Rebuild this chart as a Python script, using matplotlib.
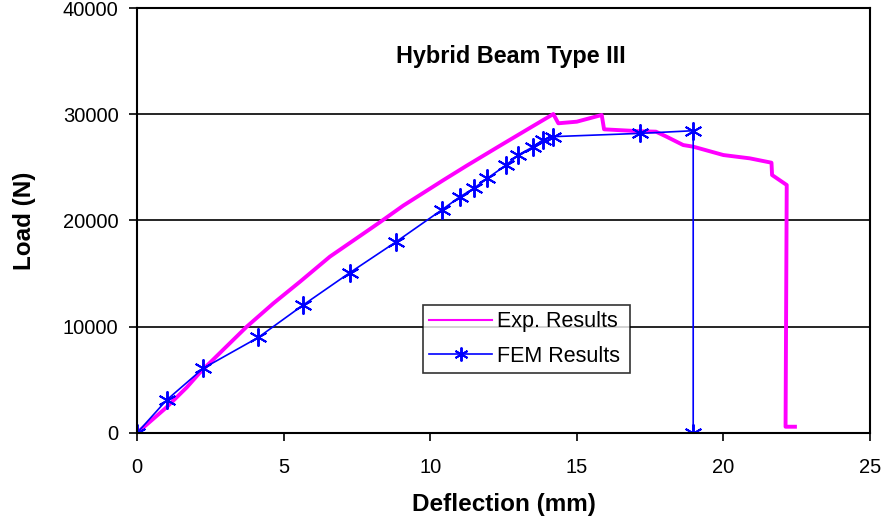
import matplotlib
matplotlib.use("Agg")
import matplotlib.pyplot as plt

plt.rcParams['font.family'] = ['Liberation Sans', 'DejaVu Sans']

# Experimental results (deflection mm, load N)
exp_x = [0.0, 1.0, 1.7, 2.15, 3.0, 3.74, 4.65, 5.56, 6.58, 7.95, 8.29, 9.08, 10.45,
         11.24, 12.38, 13.52, 14.2, 14.37, 15.0, 15.85, 15.93, 17.16, 17.7, 18.06,
         18.63, 18.97, 20.0, 20.9, 21.64, 21.66, 22.16, 22.12, 22.44]
exp_y = [0, 2400, 4300, 5700, 8000, 10000, 12200, 14240, 16600, 19200, 19850, 21400, 23800,
         25150, 27040, 28910, 30020, 29150, 29300, 29930, 28580, 28400, 28360, 27890,
         27100, 26950, 26160, 25850, 25440, 24280, 23340, 590, 590]

# FEM results
fem_x = [0.0, 1.01, 2.26, 4.14, 5.67, 7.26, 8.83, 10.39, 11.02, 11.49, 11.95, 12.59,
         13.0, 13.52, 13.84, 14.18, 17.16, 18.97, 18.97]
fem_y = [0, 3100, 6090, 9000, 12050, 15090, 17980, 20990, 22240, 23030, 23970, 25220,
         26160, 26950, 27580, 27890, 28200, 28450, 0]

x_ticks = [0, 5, 10, 15, 20, 25]
y_ticks = [0, 10000, 20000, 30000, 40000]

fig = plt.figure(figsize=(8.91, 5.25), dpi=100)
ax = fig.add_axes([137/891, 1-433/525, 733/891, 425/525])

ax.plot(exp_x, exp_y, color='#FF00FF', lw=2.8, solid_joinstyle='round',
        label='Exp. Results')
ax.plot(fem_x, fem_y, color='#0000FF', lw=1.2, marker=(6, 2, 0), markersize=13,
        markeredgewidth=1.4, markeredgecolor='#0000FF', label='FEM Results')

ax.set_xlim(0, 25)
ax.set_ylim(0, 40000)
ax.set_xticks(x_ticks)
ax.set_yticks(y_ticks)
ax.yaxis.grid(True, color='black', lw=1.2)
ax.set_axisbelow(True)
for s in ax.spines.values():
    s.set_linewidth(1.5)
    s.set_color('black')
ax.tick_params(axis='both', direction='out', length=5.8, width=1.2, labelsize=14.5)
ax.tick_params(axis='y', pad=7.5)
ax.tick_params(axis='x', pad=12)

ax.set_xlabel('Deflection (mm)', fontsize=17.5, fontweight='bold', labelpad=12)
ax.set_ylabel('Load (N)', fontsize=17.5, fontweight='bold', labelpad=19)

ax.text(0.51, 0.885, 'Hybrid Beam Type III', transform=ax.transAxes, ha='center',
        va='center', fontsize=16.8, fontweight='bold')

leg = ax.legend(loc='lower left', bbox_to_anchor=(0.390, 0.141, 0.282, 0.167),
                mode='expand', fontsize=15.5, frameon=True, fancybox=False,
                borderpad=0.3, handlelength=2.9, handletextpad=0.25, labelspacing=0.63,
                borderaxespad=0)
leg.get_frame().set_edgecolor('black')
leg.get_frame().set_linewidth(1.2)
leg.get_lines()[0].set_linewidth(1.5)
leg.get_lines()[1].set_markersize(10)

fig.savefig('out.png', dpi=100, facecolor='white')
